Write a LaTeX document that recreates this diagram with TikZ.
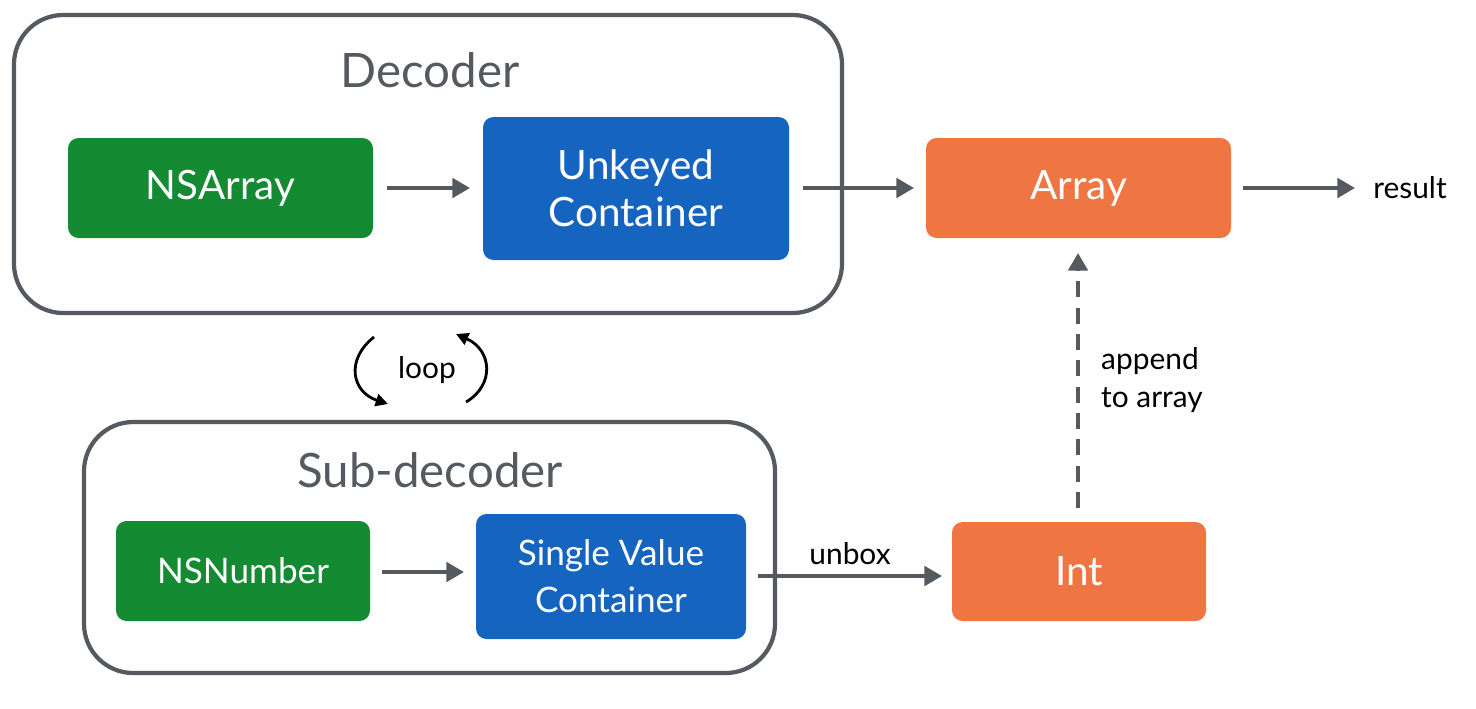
\documentclass[tikz,border=0pt]{standalone}
\usepackage{fontspec}
\setmainfont{Lato}
\usetikzlibrary{arrows.meta}
\definecolor{frm}{HTML}{555A60}
\definecolor{grn}{HTML}{148A33}
\definecolor{blu}{HTML}{1565C0}
\definecolor{org}{HTML}{EF7642}
\begin{document}
\begin{tikzpicture}[x=0.02cm,y=-0.02cm,
  frame/.style={draw=frm,line width=2.4pt,rounded corners=28pt},
  box/.style={rounded corners=6pt,text=white,font=\fontsize{23}{27}\selectfont,align=center,inner sep=0pt},
  ttl/.style={text=frm,font=\fontsize{27}{32}\selectfont},
  lbl/.style={text=black,font=\fontsize{17}{22}\selectfont,align=left},
  arr/.style={draw=frm,line width=2.2pt,-{Triangle[length=10pt,width=11pt]}}]
\useasboundingbox (0,0) rectangle (1476,708);
\draw[frame] (14,15) rectangle (842,313);
\node[ttl] (dt) at (430,70) {Decoder};
\draw[frame] (84,422) rectangle (775,673);
\node[ttl] (st) at (430,470) {Sub-decoder};
\node[box,fill=grn,minimum width=305\pgflinewidth] (nsa) at (220.5,188) {};
\fill[grn,rounded corners=6pt] (68,138) rectangle (373,238);
\node[box] (nsa) at (220.5,188) {NSArray};
\fill[blu,rounded corners=6pt] (483,117) rectangle (789,260);
\node[box] (unk) at (636,188) {Unkeyed\\Container};
\fill[org,rounded corners=6pt] (926,138) rectangle (1231,238);
\node[box] (arrn) at (1078.5,188) {Array};
\fill[grn,rounded corners=6pt] (116,521) rectangle (370,621);
\node[box,font=\fontsize{20}{24}\selectfont] (nsn) at (243,571) {NSNumber};
\fill[blu,rounded corners=6pt] (476,514) rectangle (746,639);
\node[box,font=\fontsize{20}{27}\selectfont] (svc) at (611,576) {Single Value\\Container};
\fill[org,rounded corners=6pt] (952,522) rectangle (1206,621);
\node[box] (int) at (1079,571) {Int};
\node[lbl] (res) at (1410,188) {result};
\coordinate (a1s) at (387,188); \coordinate (a1e) at (470,188);
\draw[arr] (a1s) -- (a1e);
\coordinate (a2s) at (803,188); \coordinate (a2e) at (914,188);
\draw[arr] (a2s) -- (a2e);
\coordinate (a3s) at (1243,188); \coordinate (a3e) at (1355,188);
\draw[arr] (a3s) -- (a3e);
\coordinate (a4s) at (382,572); \coordinate (a4e) at (464,572);
\draw[arr] (a4s) -- (a4e);
\coordinate (a5s) at (758,576); \coordinate (a5e) at (942,576);
\draw[arr] (a5s) -- node[lbl,above=2pt] {unbox} (a5e);
\coordinate (a6s) at (1078,508); \coordinate (a6e) at (1078,253);
\draw[arr,dashed,dash pattern=on 9pt off 6pt] (a6s) -- (a6e);
\node[lbl,anchor=west] (app) at (1095,380) {append\\to array};
\node[lbl] (loop) at (427,370) {loop};
\coordinate (l1) at (374,337); \coordinate (l2) at (388,404);
\draw[line width=1.6pt,-{Triangle[length=7pt,width=7pt]}] (l1) .. controls (345,360) and (352,392) .. (l2);
\coordinate (l3) at (466,402); \coordinate (l4) at (456,334);
\draw[line width=1.6pt,-{Triangle[length=7pt,width=7pt]}] (l3) .. controls (495,385) and (492,350) .. (l4);
\end{tikzpicture}
\end{document}
